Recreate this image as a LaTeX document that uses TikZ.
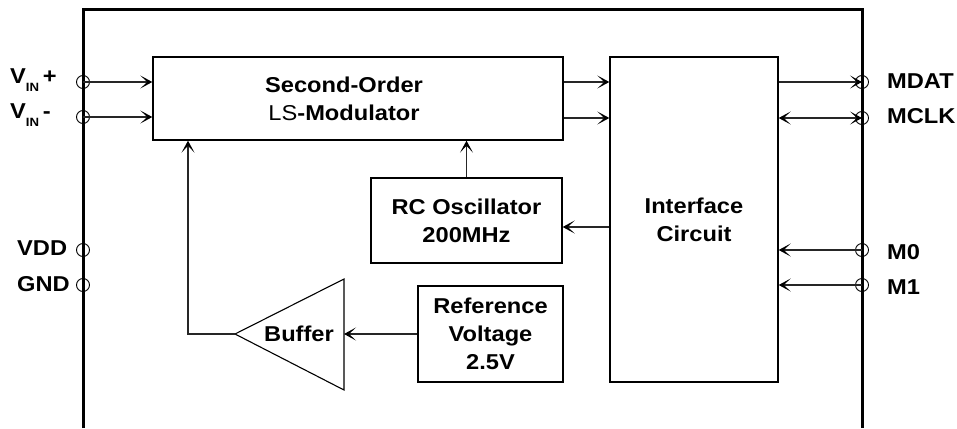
\documentclass[tikz,border=0pt]{standalone}
\usepackage{fontspec}
\setmainfont{Liberation Sans}[FakeStretch=1.1]
\usetikzlibrary{arrows.meta}
\begin{document}
\begin{tikzpicture}[x=1pt,y=-1pt,
  box/.style={draw=black, line width=1.4pt, inner sep=0pt},
  txt/.style={font=\fontsize{21.5}{28}\selectfont\bfseries, align=center, inner sep=0pt},
  tip/.style={},
  conn/.style={draw=black!85, line width=1.1pt},
  arr/.style={conn, -{Stealth[length=12pt,width=13pt,inset=7pt,color=black]}},
  darr/.style={conn, {Stealth[length=12pt,width=13pt,inset=7pt,color=black]}-{Stealth[length=12pt,width=13pt,inset=7pt,color=black]}},
  pin/.style={circle, draw=black, line width=0.9pt, minimum size=13pt, inner sep=0pt},
]
\useasboundingbox (0,0) rectangle (957,428);
% chip outline
\draw[line width=3pt] (83,428) -- (83,10) -- (862,10) -- (862,428);

% blocks
\node[box, minimum width=410pt, minimum height=83pt] (mod) at (358,98.5) {};
\node[txt] (modt) at (344,99) {Second-Order\\{\mdseries LS}-Modulator};
\node[box, txt, minimum width=168pt, minimum height=325pt] (ifc) at (694,219.5) {Interface\\Circuit};
\node[box, txt, minimum width=191pt, minimum height=85pt] (rc) at (466.5,220.5) {RC Oscillator\\200MHz};
\node[box, txt, minimum width=145pt, minimum height=96pt] (ref) at (490.5,334) {Reference\\Voltage\\2.5V};

% buffer
\coordinate (bufL) at (235,334);
\coordinate (bufR) at (344,334);
\draw[line width=1.1pt] (bufL) -- (344,279) -- (344,390) -- cycle;
\node[txt] (buf) at (299,334) {Buffer};

% pins
\node[pin] (vp) at (83,82) {};
\node[pin] (vm) at (83,117) {};
\node[pin] (vdd) at (83,250) {};
\node[pin] (gnd) at (83,285) {};
\node[pin] (mdat) at (862,82) {};
\node[pin] (mclk) at (862,118) {};
\node[pin] (m0) at (862,250) {};
\node[pin] (m1) at (862,285) {};

% pin labels
\node[txt, anchor=base west] (lvp) at (10,83) {V\raisebox{-8pt}{\fontsize{12}{12}\selectfont IN}\,+};
\node[txt, anchor=base west] (lvm) at (10,118) {V\raisebox{-8pt}{\fontsize{12}{12}\selectfont IN}\,-};
\node[txt, anchor=base west] (lvdd) at (17,255) {VDD};
\node[txt, anchor=base west] (lgnd) at (17,291) {GND};
\node[txt, anchor=base west] (lmdat) at (887,88) {MDAT};
\node[txt, anchor=base west] (lmclk) at (887,123) {MCLK};
\node[txt, anchor=base west] (lm0) at (887,259) {M0};
\node[txt, anchor=base west] (lm1) at (887,294) {M1};

% connectors
\draw[arr] (vp.center) -- (mod.west |- vp.center);
\draw[arr] (vm.center) -- (mod.west |- vm.center);
\draw[arr] (mod.east |- mdat.center) -- (ifc.west |- mdat.center);
\draw[arr] (mod.east |- mclk.center) -- (ifc.west |- mclk.center);
\draw[arr] (ifc.east |- mdat.center) -- (mdat.center);
\draw[darr] (ifc.east |- mclk.center) -- (mclk.center);
\draw[arr] (m0.center) -- (ifc.east |- m0.center);
\draw[arr] (m1.center) -- (ifc.east |- m1.center);
\coordinate (rcin) at (600,227);
\draw[arr] (ifc.west |- rcin) -- (rc.east |- rcin);
\draw[arr] (rc.north) -- (rc.north |- mod.south);
\draw[arr] (ref.west) -- (bufR);
\coordinate (fb) at (188,334);
\draw[arr] (bufL) -- (fb) -- (fb |- mod.south);
\end{tikzpicture}
\end{document}
